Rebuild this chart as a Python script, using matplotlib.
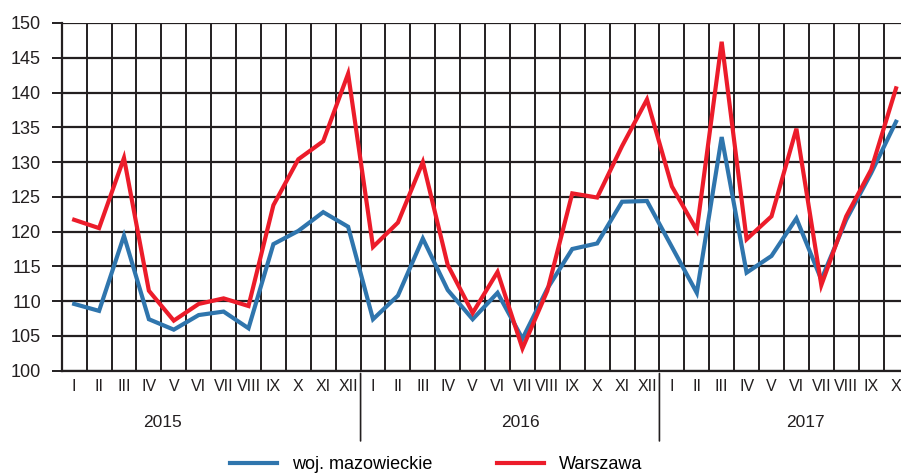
import matplotlib
matplotlib.use("Agg")
import matplotlib.pyplot as plt

plt.rcParams['font.family'] = ['Liberation Sans', 'DejaVu Sans']

months = ["I", "II", "III", "IV", "V", "VI", "VII", "VIII", "IX", "X", "XI", "XII"]
years = ["2015", "2016", "2017"]
month_labels = months + months + months[:10]

# woj. mazowieckie
mazowieckie = [109.6, 108.6, 119.4, 107.4, 105.9, 108.0, 108.5, 106.1, 118.2, 120.1, 122.8, 120.7,
               107.4, 110.8, 119.0, 111.6, 107.4, 111.2, 104.6, 111.8, 117.5, 118.3, 124.3, 124.4,
               117.8, 111.2, 133.6, 114.1, 116.5, 121.9, 113.1, 121.7, 128.4, 135.8]
# Warszawa
warszawa = [121.7, 120.5, 130.6, 111.5, 107.2, 109.6, 110.4, 109.3, 123.8, 130.4, 133.0, 142.7,
            117.8, 121.3, 130.0, 115.2, 108.3, 114.2, 103.2, 111.5, 125.5, 124.9, 132.3, 139.0,
            126.5, 120.2, 147.3, 118.9, 122.2, 134.8, 112.3, 122.2, 128.9, 140.6]

x = list(range(len(month_labels)))

fig = plt.figure(figsize=(9.01, 4.73), dpi=100)
ax = fig.add_axes([0.0685, 0.2163, 0.9315, 0.7351])

# siatka
for v in range(100, 151, 5):
    ax.axhline(v, color="#231f20", lw=1.6, zorder=1)
for i in range(len(x)):
    ax.axvline(i - 0.5, color="#231f20", lw=1.4, zorder=1)

ax.plot(x, mazowieckie, color="#2f75ad", lw=3.0, label="woj. mazowieckie", zorder=3,
        solid_joinstyle="miter")
ax.plot(x, warszawa, color="#ec1c2a", lw=3.0, label="Warszawa", zorder=4,
        solid_joinstyle="miter")

ax.set_xlim(-0.5, 33.2)
ax.set_ylim(100, 150)
ax.set_yticks(range(100, 151, 5))
ax.set_xticks(x)
ax.set_xticklabels(month_labels)
ax.tick_params(axis="x", length=0, pad=6, labelsize=11.5, colors="#231f20")
ax.tick_params(axis="y", length=7, width=1.4, pad=8, labelsize=13, colors="#231f20")
for s in ["top", "right"]:
    ax.spines[s].set_visible(False)
ax.spines["left"].set_linewidth(1.6)
ax.spines["bottom"].set_linewidth(1.6)
ax.spines["left"].set_color("#231f20")
ax.spines["bottom"].set_color("#231f20")

# podpisy lat i separatory
year_pos = [3.53, 17.9, 29.36]
for yr, p in zip(years, year_pos):
    ax.annotate(yr, xy=(p, 0), xycoords=("data", "axes fraction"), xytext=(0, -37.5),
                textcoords="offset points", ha="center", va="center", fontsize=12.5,
                color="#231f20", annotation_clip=False)
for sep in [11.5, 23.5]:
    ax.annotate("", xy=(sep, 0), xycoords=("data", "axes fraction"),
                xytext=(sep, -0.21), textcoords=("data", "axes fraction"),
                arrowprops=dict(arrowstyle="-", color="#231f20", lw=1.2),
                annotation_clip=False)

fig.legend(loc="center", bbox_to_anchor=(0.484, 0.018), ncol=2, frameon=False,
           fontsize=13, handlelength=2.6, columnspacing=3.6, handletextpad=0.8)

fig.savefig("out.png", dpi=100)
